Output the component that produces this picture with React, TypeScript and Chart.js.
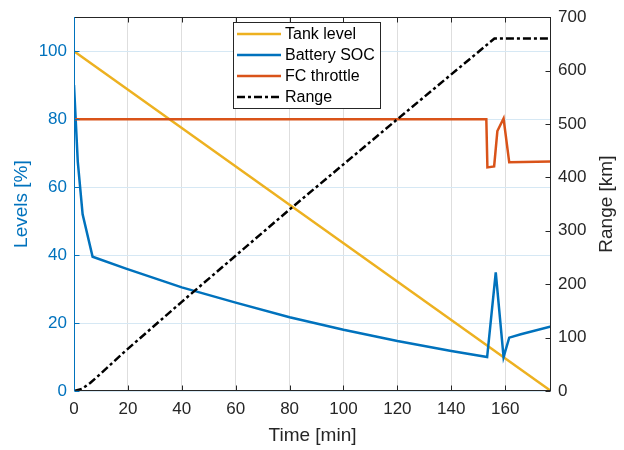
import { useEffect, useRef } from 'react';
import { Chart, registerables } from 'chart.js';

Chart.register(...registerables);

// ---- Data ----
const tankTime = [0, 177];
const tankLevel = [100, 0];

const socTime = [0, 1.4, 3.2, 6.9, 19.3, 40, 60, 80, 100, 120, 140, 153.3, 156.5, 159.4, 161.5, 165.8, 177];
const socLevel = [90, 67.5, 52, 39.5, 36, 30.5, 26, 21.7, 18, 14.7, 11.8, 10, 34.9, 10, 15.7, 16.7, 19];

const fcTime = [0, 153, 153.4, 155.9, 157.1, 159.4, 161.5, 177];
const fcThrottle = [80, 80, 65.8, 66.1, 76.5, 80.2, 67.3, 67.5];

const rangeTime = [0, 3, 6, 10, 19.3, 40, 80, 120, 156, 177];
const rangeKm = [0, 4, 15, 33, 76, 167, 340, 509, 660, 660];

const timeTicks = [0, 20, 40, 60, 80, 100, 120, 140, 160];
const levelTicks = [0, 20, 40, 60, 80, 100];
const rangeTicks = [0, 100, 200, 300, 400, 500, 600, 700];

const seriesLabels = ['Tank level', 'Battery SOC', 'FC throttle', 'Range'];

// ---- Styles ----
const FONT = '"Liberation Sans", Arial, Helvetica, sans-serif';
const BLUE = '#0072BD';
const DARK = '#262626';
const RANGE_DASH = [8, 3, 3, 3];

const toPts = (xs: number[], ys: number[]) => xs.map((x, i) => ({ x, y: ys[i] }));

const framePlugin = {
  id: 'frame',
  afterDatasetsDraw(chart: any) {
    const { ctx, chartArea: a, scales } = chart;
    const L = 5;
    const seg = (x1: number, y1: number, x2: number, y2: number) => {
      ctx.beginPath();
      ctx.moveTo(x1, y1);
      ctx.lineTo(x2, y2);
      ctx.stroke();
    };
    ctx.save();
    ctx.lineWidth = 1;
    ctx.setLineDash([]);
    const left = Math.round(a.left) + 0.5;
    const right = Math.round(a.right) - 0.5;
    const top = Math.round(a.top) + 0.5;
    const bottom = Math.round(a.bottom) - 0.5;
    ctx.strokeStyle = DARK;
    scales.x.ticks.forEach((t: any) => {
      const px = Math.round(scales.x.getPixelForValue(t.value)) + 0.5;
      seg(px, top, px, top + L);
      seg(px, bottom, px, bottom - L);
    });
    scales.y1.ticks.forEach((t: any) => {
      const py = Math.round(scales.y1.getPixelForValue(t.value)) + 0.5;
      seg(right, py, right - L, py);
    });
    seg(left, top, right + 0.5, top);
    seg(left, bottom, right + 0.5, bottom);
    seg(right, top, right, bottom + 0.5);
    ctx.strokeStyle = BLUE;
    scales.y.ticks.forEach((t: any) => {
      const py = Math.round(scales.y.getPixelForValue(t.value)) + 0.5;
      seg(left, py, left + L, py);
    });
    seg(left, top - 0.5, left, bottom + 0.5);

    // right axis title, reading bottom to top
    ctx.fillStyle = DARK;
    ctx.font = `19px ${FONT}`;
    ctx.textAlign = 'center';
    ctx.textBaseline = 'middle';
    ctx.translate(607, (a.top + a.bottom) / 2);
    ctx.rotate(-Math.PI / 2);
    ctx.fillText('Range [km]', 0, 0);
    ctx.restore();
  },
};

const legendPlugin = {
  id: 'boxLegend',
  afterDraw(chart: any) {
    const { ctx } = chart;
    const bx = 233, by = 22, bw = 147, bh = 86;
    ctx.save();
    ctx.fillStyle = '#ffffff';
    ctx.fillRect(bx, by, bw, bh);
    ctx.strokeStyle = DARK;
    ctx.lineWidth = 1;
    ctx.strokeRect(bx + 0.5, by + 0.5, bw, bh);
    ctx.font = `16px ${FONT}`;
    ctx.textBaseline = 'middle';
    ctx.textAlign = 'left';
    chart.data.datasets.forEach((ds: any, i: number) => {
      const y = by + 12 + i * 21;
      ctx.strokeStyle = ds.borderColor;
      ctx.lineWidth = 2.5;
      ctx.setLineDash(ds.borderDash || []);
      ctx.beginPath();
      ctx.moveTo(237, y);
      ctx.lineTo(281, y);
      ctx.stroke();
      ctx.setLineDash([]);
      ctx.fillStyle = '#000000';
      ctx.fillText(ds.label, 285, y + 1);
    });
    ctx.restore();
  },
};

export default function App() {
  const ref = useRef<HTMLCanvasElement>(null);

  useEffect(() => {
    const canvas = ref.current!;
    const chart = new Chart(canvas, {
      type: 'line',
      data: {
        datasets: [
          { label: seriesLabels[0], data: toPts(tankTime, tankLevel), borderColor: '#EDB120', yAxisID: 'y', order: 4 },
          { label: seriesLabels[1], data: toPts(socTime, socLevel), borderColor: BLUE, yAxisID: 'y', order: 3 },
          { label: seriesLabels[2], data: toPts(fcTime, fcThrottle), borderColor: '#D95319', yAxisID: 'y', order: 2 },
          { label: seriesLabels[3], data: toPts(rangeTime, rangeKm), borderColor: '#000000', borderDash: RANGE_DASH, yAxisID: 'y1', order: 1 },
        ],
      },
      options: {
        responsive: false,
        animation: false,
        layout: { padding: { top: 14, left: 0, right: 0, bottom: 0 } },
        elements: {
          point: { radius: 0, hoverRadius: 0 },
          line: { borderWidth: 2.5, tension: 0, fill: false },
        },
        plugins: { legend: { display: false }, tooltip: { enabled: false } },
        scales: {
          x: {
            type: 'linear',
            min: 0,
            max: 177,
            afterBuildTicks: (s: any) => { s.ticks = timeTicks.map((v) => ({ value: v })); },
            afterFit: (s: any) => { s.height = 59; },
            grid: { color: '#dedede', drawTicks: false, lineWidth: 1 },
            border: { display: false },
            ticks: { color: DARK, font: { family: FONT, size: 17 }, padding: 8, maxRotation: 0, autoSkip: false },
            title: { display: true, text: 'Time [min]', color: DARK, font: { family: FONT, size: 19 }, padding: { top: 0, bottom: 3 } },
          },
          y: {
            type: 'linear',
            position: 'left',
            min: 0,
            max: 110,
            afterBuildTicks: (s: any) => { s.ticks = levelTicks.map((v) => ({ value: v })); },
            afterFit: (s: any) => { s.width = 74; },
            grid: { color: '#d6e8f4', drawTicks: false, lineWidth: 1 },
            border: { display: false },
            ticks: { color: BLUE, font: { family: FONT, size: 17 }, padding: 7, autoSkip: false },
            title: { display: true, text: 'Levels [%]', color: BLUE, font: { family: FONT, size: 19 }, padding: { top: 10, bottom: 0 } },
          },
          y1: {
            type: 'linear',
            position: 'right',
            min: 0,
            max: 700,
            afterBuildTicks: (s: any) => { s.ticks = rangeTicks.map((v) => ({ value: v })); },
            afterFit: (s: any) => { s.width = 73; },
            grid: { display: false, drawTicks: false },
            border: { display: false },
            ticks: { color: DARK, font: { family: FONT, size: 17 }, padding: 7, autoSkip: false },
            title: { display: false },
          },
        },
      },
      plugins: [framePlugin, legendPlugin],
    } as any);
    return () => chart.destroy();
  }, []);

  return (
    <div style={{ position: 'fixed', left: 0, top: 0, width: 624, height: 450, background: '#ffffff' }}>
      <canvas ref={ref} width={624} height={450} style={{ display: 'block' }} />
    </div>
  );
}
